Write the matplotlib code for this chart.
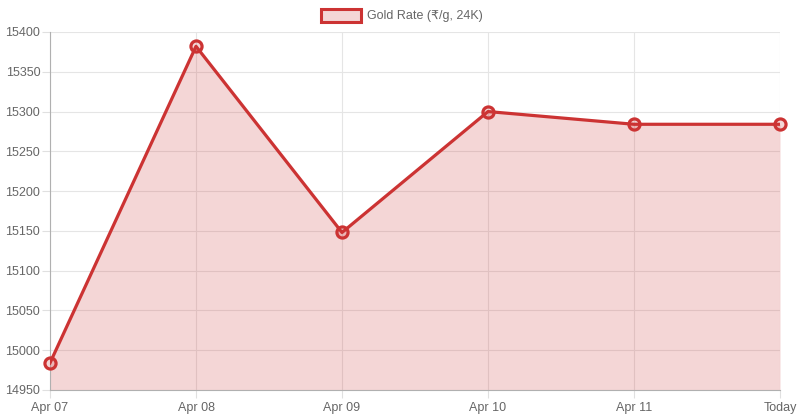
import matplotlib
matplotlib.use("Agg")
import matplotlib.pyplot as plt
from matplotlib.patches import Rectangle

labels = ["Apr 07", "Apr 08", "Apr 09", "Apr 10", "Apr 11", "Today"]
values = [14984, 15382, 15148, 15300, 15284, 15284]
y_ticks = list(range(14950, 15401, 50))
series_name = "Gold Rate (₹/g, 24K)"

plt.rcParams['font.family'] = ['Liberation Sans', 'DejaVu Sans']

W, H = 800, 420
fig = plt.figure(figsize=(W / 100, H / 100), dpi=100)
L, R, T, B = 50, 780, 32, 390
ax = fig.add_axes([L / W, 1 - B / H, (R - L) / W, (B - T) / H])

line_color = "#cc3333"
fill_color = (204 / 255, 51 / 255, 51 / 255, 0.2)
x = list(range(len(labels)))

ax.fill_between(x, values, y_ticks[0], color=fill_color, linewidth=0)
ax.plot(x, values, color=line_color, linewidth=2.3, zorder=3)
ax.plot(x, values, linestyle="none", marker="o", markersize=8,
        markerfacecolor=fill_color, markeredgecolor=line_color,
        markeredgewidth=2.3, zorder=4, clip_on=False)

ax.set_xlim(0, len(labels) - 1)
ax.set_ylim(y_ticks[0], y_ticks[-1])
ax.set_xticks(x)
ax.set_xticklabels(labels)
ax.set_yticks(y_ticks)
ax.set_yticklabels([str(v) for v in y_ticks])

ax.grid(True, color="#e5e5e5", linewidth=0.8)
ax.set_axisbelow(True)
for s in ["top", "right"]:
    ax.spines[s].set_visible(False)
for s in ["left", "bottom"]:
    ax.spines[s].set_color("#b0b0b0")
    ax.spines[s].set_linewidth(0.8)
ax.tick_params(axis="both", length=6, width=0.8, color="#e0e0e0",
               labelcolor="#666666", labelsize=9)
ax.tick_params(axis="x", pad=2.5)
ax.tick_params(axis="y", pad=1)

# legend
fig.patches.append(Rectangle((321 / W, 1 - 22 / H), 40 / W, 13 / H,
                             transform=fig.transFigure, facecolor=fill_color,
                             edgecolor=line_color, linewidth=2.2))
fig.text(367 / W, 1 - 16 / H, series_name, color="#666666", fontsize=9,
         va="center", ha="left")

fig.savefig("out.png", dpi=100)
